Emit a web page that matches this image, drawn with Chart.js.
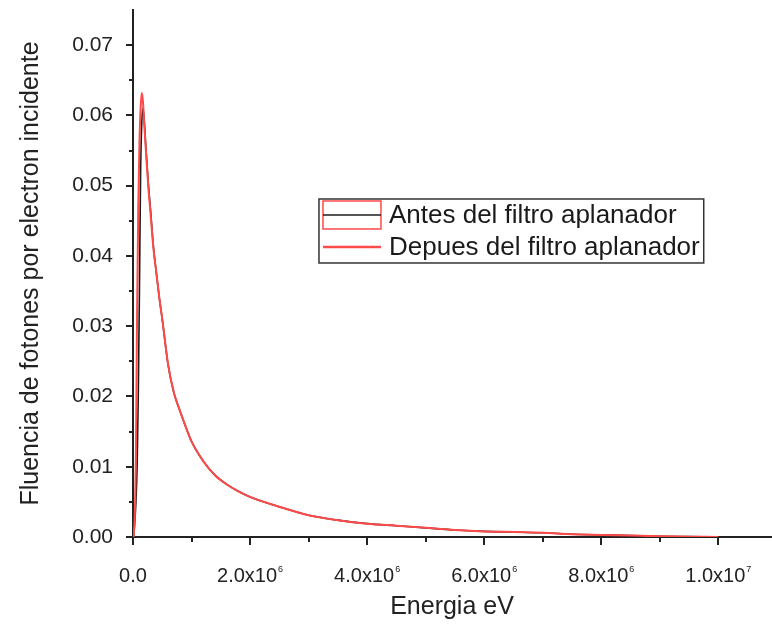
<!DOCTYPE html>
<html>
<head>
<meta charset="utf-8">
<script src="https://cdn.jsdelivr.net/npm/chart.js@4.4.1/dist/chart.umd.min.js"></script>
<style>
  html, body { margin: 0; padding: 0; background: #ffffff; }
  #wrap { width: 772px; height: 628px; }
</style>
</head>
<body>
<div id="wrap"><canvas id="c" width="772" height="628"></canvas></div>
<script>
// Photon energy (eV)
const energia = [
  1e4, 3e4, 5e4, 7e4, 9e4, 1.1e5, 1.3e5, 1.5e5, 1.7e5, 1.9e5, 2.2e5, 2.6e5,
  3.0e5, 3.5e5, 4.0e5, 4.5e5, 5.0e5, 6.0e5, 7.0e5, 8.0e5, 9.0e5, 1.0e6,
  1.2e6, 1.4e6, 1.6e6, 1.8e6, 2.0e6, 2.5e6, 3.0e6, 3.5e6, 4.0e6, 4.5e6,
  5.0e6, 5.5e6, 6.0e6, 6.5e6, 7.0e6, 7.5e6, 8.0e6, 8.5e6, 9.0e6, 9.5e6, 1.0e7
];
// Photon fluence per incident electron, before the flattening filter
const fluenciaAntes = [
  0.0, 0.002, 0.005, 0.010, 0.020, 0.035, 0.052, 0.059, 0.061, 0.0595, 0.0555, 0.0505,
  0.0465, 0.0412, 0.0375, 0.0340, 0.0310, 0.0245, 0.0205, 0.0180, 0.0157, 0.0136,
  0.0108, 0.0088, 0.0075, 0.0065, 0.0057, 0.0043, 0.0031, 0.0024, 0.0019, 0.0016,
  0.0013, 0.0010, 0.0008, 0.0007, 0.0006, 0.0004, 0.0003, 0.0002, 0.0001, 0.00005, 0.0
];
// Photon fluence per incident electron, after the flattening filter
const fluenciaDespues = [
  0.0, 0.003, 0.012, 0.032, 0.047, 0.056, 0.061, 0.0632, 0.062, 0.059, 0.055, 0.050,
  0.0460, 0.0410, 0.0375, 0.0340, 0.0310, 0.0245, 0.0205, 0.0180, 0.0157, 0.0136,
  0.0108, 0.0088, 0.0075, 0.0065, 0.0057, 0.0043, 0.0031, 0.0024, 0.0019, 0.0016,
  0.0013, 0.0010, 0.0008, 0.0007, 0.0006, 0.0004, 0.0003, 0.0002, 0.0001, 0.00005, 0.0
];

const yMajorTicks = [0, 0.01, 0.02, 0.03, 0.04, 0.05, 0.06, 0.07];
const yMinorTicks = [0.005, 0.015, 0.025, 0.035, 0.045, 0.055, 0.065];
const xMajorTicks = [0, 2e6, 4e6, 6e6, 8e6, 1e7];
const xMinorTicks = [1e6, 3e6, 5e6, 7e6, 9e6];
// mantissa / exponent pairs for the energy tick labels
const xTickLabels = [['0.0', ''], ['2.0x10', '6'], ['4.0x10', '6'], ['6.0x10', '6'], ['8.0x10', '6'], ['1.0x10', '7']];
const seriesNames = ['Antes del filtro aplanador', 'Depues del filtro aplanador'];

const FONT = "'Liberation Sans', Arial, sans-serif";
const INK = '#222222';
const BLACK_LINE = '#1c1c1c';
const RED_LINE = '#ff4a4a';

const toPoints = (xs, ys) => xs.map((x, i) => ({ x: x, y: ys[i] }));

// Outward tick marks (major + minor), energy tick labels with exponents, legend box
const axisDecor = {
  id: 'axisDecor',
  afterDraw(chart) {
    const { ctx, chartArea, scales } = chart;
    const xs = scales.x, ys = scales.y;
    ctx.save();
    ctx.strokeStyle = INK;
    ctx.lineWidth = 2;
    ctx.beginPath();
    yMajorTicks.forEach(v => { const p = Math.round(ys.getPixelForValue(v)); ctx.moveTo(chartArea.left, p); ctx.lineTo(chartArea.left - 7, p); });
    yMinorTicks.forEach(v => { const p = Math.round(ys.getPixelForValue(v)); ctx.moveTo(chartArea.left, p); ctx.lineTo(chartArea.left - 4, p); });
    xMajorTicks.forEach(v => { const p = Math.round(xs.getPixelForValue(v)); ctx.moveTo(p, chartArea.bottom); ctx.lineTo(p, chartArea.bottom + 8); });
    xMinorTicks.forEach(v => { const p = Math.round(xs.getPixelForValue(v)); ctx.moveTo(p, chartArea.bottom); ctx.lineTo(p, chartArea.bottom + 5); });
    ctx.stroke();

    // energy tick labels: mantissa with raised exponent
    ctx.fillStyle = INK;
    ctx.textBaseline = 'alphabetic';
    xMajorTicks.forEach((v, i) => {
      const [base, exp] = xTickLabels[i];
      ctx.font = '20px ' + FONT;
      const wb = ctx.measureText(base).width;
      ctx.font = '9px ' + FONT;
      const we = exp ? ctx.measureText(exp).width + 1 : 0;
      const total = wb + we;
      const px = xs.getPixelForValue(v);
      const x0 = px - total / 2;
      const yb = chartArea.bottom + 45;
      ctx.font = '20px ' + FONT;
      ctx.textAlign = 'left';
      ctx.fillText(base, x0, yb);
      if (exp) {
        ctx.font = '9px ' + FONT;
        ctx.fillText(exp, x0 + wb + 1, yb - 10);
      }
    });

    // legend box
    const lx = chartArea.left + chartArea.width * 0.2915;
    const ly = chartArea.top + chartArea.height * 0.3586;
    const rowH = 32;
    const symW = 58;
    ctx.font = '26px ' + FONT;
    const textW = Math.max(...seriesNames.map(s => ctx.measureText(s).width));
    const boxW = 70 + textW + 4;
    const boxH = 64;
    ctx.fillStyle = '#ffffff';
    ctx.fillRect(lx, ly, boxW, boxH);
    ctx.strokeStyle = '#333333';
    ctx.lineWidth = 1.5;
    ctx.strokeRect(lx, ly, boxW, boxH);

    const r1 = ly + 16, r2 = ly + 16 + rowH;
    // first entry: red frame with black line
    ctx.strokeStyle = RED_LINE;
    ctx.lineWidth = 1.5;
    ctx.strokeRect(lx + 4, r1 - 14, symW, 28);
    ctx.strokeStyle = BLACK_LINE;
    ctx.lineWidth = 1.5;
    ctx.beginPath(); ctx.moveTo(lx + 4, r1); ctx.lineTo(lx + 4 + symW, r1); ctx.stroke();
    // second entry: red line
    ctx.strokeStyle = RED_LINE;
    ctx.lineWidth = 2.5;
    ctx.beginPath(); ctx.moveTo(lx + 4, r2); ctx.lineTo(lx + 4 + symW, r2); ctx.stroke();

    ctx.fillStyle = '#1a1a1a';
    ctx.textAlign = 'left';
    ctx.textBaseline = 'middle';
    ctx.font = '26px ' + FONT;
    ctx.fillText(seriesNames[0], lx + 70, r1 + 1);
    ctx.fillText(seriesNames[1], lx + 70, r2 + 1);
    ctx.restore();
  }
};

new Chart(document.getElementById('c'), {
  type: 'scatter',
  data: {
    datasets: [
      {
        label: seriesNames[1],
        data: toPoints(energia, fluenciaDespues),
        showLine: true,
        borderColor: RED_LINE,
        borderWidth: 2,
        pointRadius: 0,
        cubicInterpolationMode: 'monotone',
        order: 1
      },
      {
        label: seriesNames[0],
        data: toPoints(energia, fluenciaAntes),
        showLine: true,
        borderColor: BLACK_LINE,
        borderWidth: 1.6,
        pointRadius: 0,
        cubicInterpolationMode: 'monotone',
        order: 2
      }
    ]
  },
  options: {
    responsive: false,
    animation: false,
    devicePixelRatio: 1,
    layout: { padding: { left: 0, right: 1, top: 10, bottom: 0 } },
    plugins: { legend: { display: false }, tooltip: { enabled: false } },
    scales: {
      x: {
        type: 'linear',
        position: 'bottom',
        min: 0,
        max: 1.09e7,
        grid: { display: false, drawTicks: false },
        border: { display: true, color: INK, width: 2 },
        ticks: { display: false, stepSize: 2e6, includeBounds: false },
        title: {
          display: true,
          text: 'Energia eV',
          color: INK,
          font: { family: FONT, size: 25 },
          padding: { top: 0, bottom: 6 }
        },
        afterFit(scale) {
          scale.height = 91;
          scale.paddingLeft = 0;
          scale.paddingRight = 0;
        }
      },
      y: {
        type: 'linear',
        min: 0,
        max: 0.075,
        grid: { display: false, drawTicks: false },
        border: { display: true, color: INK, width: 2 },
        ticks: {
          stepSize: 0.01,
          includeBounds: false,
          padding: 20,
          color: INK,
          font: { family: FONT, size: 21 },
          callback: v => v.toFixed(2)
        },
        title: {
          display: true,
          text: 'Fluencia de fotones por electron incidente',
          color: INK,
          font: { family: FONT, size: 25 },
          padding: { top: 16, bottom: 0 }
        },
        afterFit(scale) {
          scale.width = 133;
          scale.paddingTop = 0;
          scale.paddingBottom = 0;
        }
      }
    }
  },
  plugins: [axisDecor]
});
</script>
</body>
</html>
